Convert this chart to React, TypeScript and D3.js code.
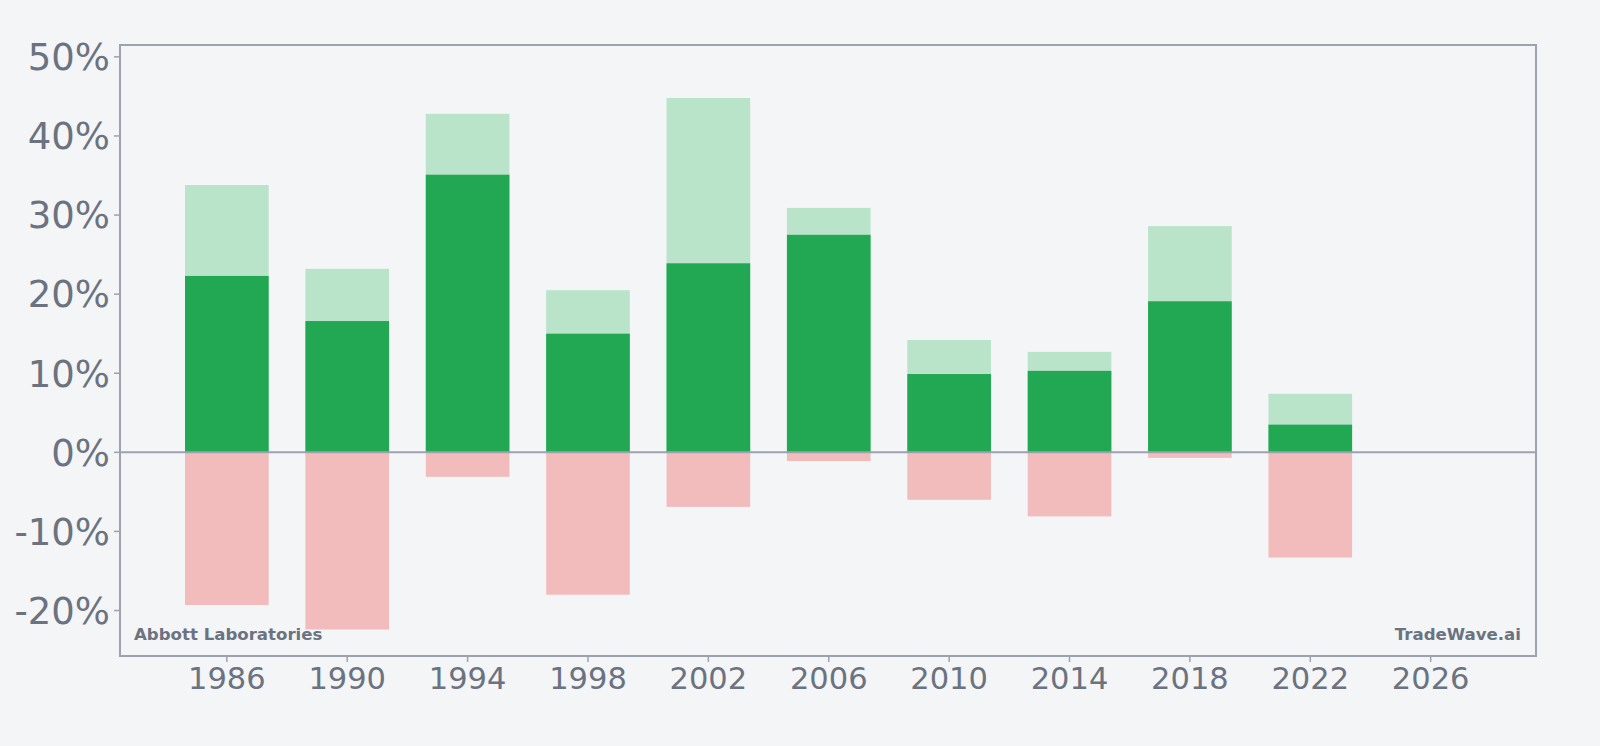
import React from "react";
import * as d3 from "d3";

const years = [1986, 1990, 1994, 1998, 2002, 2006, 2010, 2014, 2018, 2022];
const highs = [33.8, 23.2, 42.8, 20.5, 44.8, 30.9, 14.2, 12.7, 28.6, 7.4];
const closes = [22.3, 16.6, 35.1, 15.0, 23.9, 27.5, 9.9, 10.3, 19.1, 3.5];
const lows = [-19.3, -22.4, -3.1, -18.0, -6.9, -1.1, -6.0, -8.1, -0.7, -13.3];
const xTicks = [1986, 1990, 1994, 1998, 2002, 2006, 2010, 2014, 2018, 2022, 2026];
const yTicks = [-20, -10, 0, 10, 20, 30, 40, 50];

const W = 1600;
const H = 746;
const L = 120, R = 1536, T = 45, B = 656;
const font = "'DejaVu Sans', sans-serif";
const textColor = "#6b7280";
const axisColor = "#9ca3af";

export default function App() {
  const x = d3.scaleLinear().domain([1982.45, 2029.5]).range([L, R]);
  const y = d3.scaleLinear().domain([-25.75, 51.5]).range([B, T]);
  const bw = x(1982.45 + 2.78) - x(1982.45);

  return (
    <div style={{ position: "absolute", left: 0, top: 0 }}>
      <svg width={W} height={H} style={{ display: "block" }}>
        <rect x={0} y={0} width={W} height={H} fill="#f4f5f7" />
        {years.map((yr, i) => (
          <g key={yr}>
            <rect x={x(yr) - bw / 2} y={y(highs[i])} width={bw} height={y(0) - y(highs[i])} fill="#b9e4c9" />
            <rect x={x(yr) - bw / 2} y={y(closes[i])} width={bw} height={y(0) - y(closes[i])} fill="#22a852" />
            <rect x={x(yr) - bw / 2} y={y(0)} width={bw} height={y(lows[i]) - y(0)} fill="#f2bcbc" />
          </g>
        ))}
        <line x1={L} x2={R} y1={y(0)} y2={y(0)} stroke={axisColor} strokeWidth={2} />
        <rect x={L} y={T} width={R - L} height={B - T} fill="none" stroke={axisColor} strokeWidth={2} />
        {yTicks.map((t) => (
          <g key={t}>
            <line x1={L - 6} x2={L} y1={y(t)} y2={y(t)} stroke={axisColor} strokeWidth={1.5} />
            <text x={L - 10} y={y(t)} dy="0.36em" textAnchor="end" fontFamily={font} fontSize={37} fill={textColor}>
              {t}%
            </text>
          </g>
        ))}
        {xTicks.map((t) => (
          <g key={t}>
            <line x1={x(t)} x2={x(t)} y1={B} y2={B + 6} stroke={axisColor} strokeWidth={1.5} />
            <text x={x(t)} y={B + 33} textAnchor="middle" fontFamily={font} fontSize={30.5} fill={textColor}>
              {t}
            </text>
          </g>
        ))}
        <text x={134} y={640} fontFamily={font} fontSize={16.6} fontWeight="bold" fill={textColor}>
          Abbott Laboratories
        </text>
        <text x={1521} y={640} textAnchor="end" fontFamily={font} fontSize={16.6} fontWeight="bold" fill={textColor}>
          TradeWave.ai
        </text>
      </svg>
    </div>
  );
}
